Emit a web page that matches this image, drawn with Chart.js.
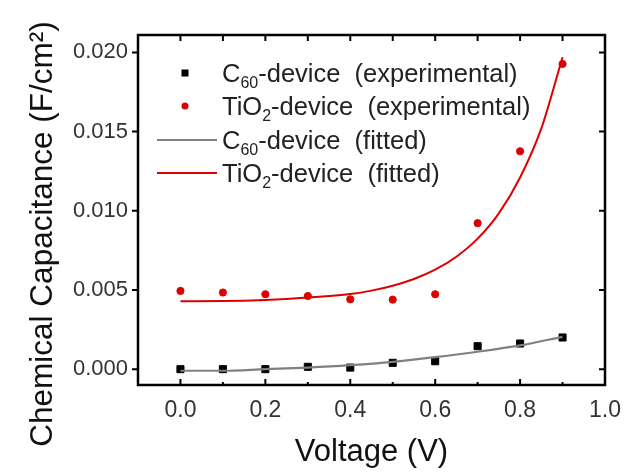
<!DOCTYPE html>
<html>
<head>
<meta charset="utf-8">
<script src="https://cdn.jsdelivr.net/npm/chart.js@4.4.0/dist/chart.umd.min.js"></script>
<style>
  html, body { margin: 0; padding: 0; background: #fff; }
  #wrap { width: 636px; height: 473px; }
</style>
</head>
<body>
<div id="wrap"><canvas id="chartCap" width="636" height="473"></canvas></div>
<script>
// measured points (voltage in V, capacitance in F/cm2)
const voltage = [0.0, 0.1, 0.2, 0.3, 0.4, 0.5, 0.6, 0.7, 0.8, 0.9];
const c60Exp = [0.0, 0.0, 0.0, 0.00015, 0.0001, 0.0004, 0.0005, 0.00145, 0.00162, 0.002];
const tio2Exp = [0.00494, 0.00484, 0.00473, 0.00462, 0.00441, 0.00439, 0.00473, 0.00922, 0.01376, 0.01927];

// fitted curves
const c60FitV = [0.0, 0.1, 0.2, 0.3, 0.4, 0.5, 0.6, 0.7, 0.8, 0.9];
const c60Fit = [-0.0001, -0.0001, 0.0, 0.0001, 0.00025, 0.00046, 0.00076, 0.0011, 0.0015, 0.00204];
const tio2FitV = [0.0, 0.1, 0.2, 0.3, 0.4, 0.45, 0.5, 0.55, 0.6, 0.65, 0.7, 0.75, 0.8, 0.85, 0.9];
const tio2Fit = [0.00429, 0.0043, 0.00437, 0.00452, 0.00474, 0.00496, 0.00527, 0.00569, 0.00628, 0.0071, 0.00824, 0.00984, 0.0121, 0.0152, 0.0197];

// series names, {..} = subscript
const seriesLabels = [
    'C{60}-device  (experimental)',
    'TiO{2}-device  (experimental)',
    'C{60}-device  (fitted)',
    'TiO{2}-device  (fitted)'
];

const xTicks = [0.0, 0.2, 0.4, 0.6, 0.8, 1.0];
const xMinorTicks = [0.1, 0.3, 0.5, 0.7, 0.9];
const yTicks = [0.000, 0.005, 0.010, 0.015, 0.020];
const yTitle = 'Chemical Capacitance (F/cm²)';

const RED = '#dd0000';
const GRAY = '#808080';
const FONT = "'Liberation Sans', Arial, sans-serif";

function pairs(xs, ys) {
    return xs.map((v, i) => ({ x: v, y: ys[i] }));
}

// box around the plot + ticks, and the y title (sits lower than chart.js would centre it)
const frameTicks = {
    id: 'frameTicks',
    afterDraw(chart) {
        const { ctx, chartArea: a, scales: { x, y } } = chart;
        ctx.save();
        ctx.strokeStyle = '#000';
        ctx.lineWidth = 2.5;
        ctx.strokeRect(a.left, a.top, a.right - a.left, a.bottom - a.top);
        ctx.lineWidth = 2;
        ctx.beginPath();
        xTicks.concat(xMinorTicks).forEach(v => {
            const px = x.getPixelForValue(v);
            const len = xTicks.includes(v) ? 6 : 3;
            ctx.moveTo(px, a.bottom);
            ctx.lineTo(px, a.bottom - len);
            ctx.moveTo(px, a.top);
            ctx.lineTo(px, a.top + 6);
        });
        yTicks.forEach(v => {
            const py = y.getPixelForValue(v);
            ctx.moveTo(a.left, py);
            ctx.lineTo(a.left - 6, py);
            ctx.moveTo(a.right, py);
            ctx.lineTo(a.right - 6, py);
        });
        ctx.stroke();

        ctx.translate(52, 234);
        ctx.rotate(-Math.PI / 2);
        ctx.fillStyle = '#111';
        ctx.font = '31.5px ' + FONT;
        ctx.textAlign = 'center';
        ctx.textBaseline = 'alphabetic';
        ctx.fillText(yTitle, 0, 0);
        ctx.restore();
    }
};

// legend with subscripts (the built-in one can't do them)
const subLegend = {
    id: 'subLegend',
    afterDraw(chart) {
        const { ctx, chartArea: a } = chart;
        const rows = [38, 71, 105, 138];
        chart.data.datasets.forEach((ds, i) => {
            const cy = a.top + rows[i];
            ctx.save();
            if (ds.showLine) {
                ctx.strokeStyle = ds.borderColor;
                ctx.lineWidth = 2;
                ctx.beginPath();
                ctx.moveTo(a.left + 19, cy);
                ctx.lineTo(a.left + 79, cy);
                ctx.stroke();
            } else {
                ctx.fillStyle = ds.pointBackgroundColor;
                const cx = a.left + 47;
                if (ds.pointStyle === 'rect') {
                    ctx.fillRect(cx - 3.5, cy - 3.5, 7, 7);
                } else {
                    ctx.beginPath();
                    ctx.arc(cx, cy, 3.5, 0, Math.PI * 2);
                    ctx.fill();
                }
            }
            ctx.fillStyle = '#222';
            ctx.textBaseline = 'alphabetic';
            let tx = a.left + 84;
            ds.label.split(/(\{[^}]*\})/).forEach(part => {
                if (!part) return;
                if (part[0] === '{') {
                    const s = part.slice(1, -1);
                    ctx.font = '16px ' + FONT;
                    ctx.fillText(s, tx, cy + 15);
                    tx += ctx.measureText(s).width;
                } else {
                    ctx.font = '25.5px ' + FONT;
                    ctx.fillText(part, tx, cy + 9);
                    tx += ctx.measureText(part).width;
                }
            });
            ctx.restore();
        });
    }
};

Chart.defaults.font.family = FONT;
Chart.defaults.color = '#333';

new Chart(document.getElementById('chartCap').getContext('2d'), {
    type: 'scatter',
    data: {
        datasets: [{
            label: seriesLabels[0],
            data: pairs(voltage, c60Exp),
            pointStyle: 'rect',
            pointRadius: 5,
            pointBackgroundColor: '#000',
            pointBorderColor: '#000',
            borderColor: '#000',
            showLine: false,
            order: 3
        }, {
            label: seriesLabels[1],
            data: pairs(voltage, tio2Exp),
            pointStyle: 'circle',
            pointRadius: 3.6,
            pointBackgroundColor: RED,
            pointBorderColor: RED,
            borderColor: RED,
            showLine: false,
            order: 4
        }, {
            label: seriesLabels[2],
            data: pairs(c60FitV, c60Fit),
            showLine: true,
            borderColor: GRAY,
            borderWidth: 2.2,
            pointRadius: 0,
            cubicInterpolationMode: 'monotone',
            order: 1
        }, {
            label: seriesLabels[3],
            data: pairs(tio2FitV, tio2Fit),
            showLine: true,
            borderColor: RED,
            borderWidth: 2,
            pointRadius: 0,
            cubicInterpolationMode: 'monotone',
            order: 2
        }]
    },
    options: {
        responsive: false,
        animation: false,
        layout: { padding: { top: 35, right: 31, left: 0, bottom: 0 } },
        plugins: {
            legend: { display: false },
            tooltip: { enabled: false }
        },
        scales: {
            x: {
                type: 'linear',
                min: -0.1,
                max: 1.0,
                grid: { display: false, drawTicks: false },
                border: { display: false },
                afterBuildTicks: scale => { scale.ticks = xTicks.map(v => ({ value: v })); },
                afterFit: scale => { scale.height = 88; },
                ticks: {
                    padding: 12,
                    color: '#333',
                    font: { size: 23 },
                    callback: v => v.toFixed(1)
                },
                title: {
                    display: true,
                    text: 'Voltage (V)',
                    color: '#111',
                    font: { size: 31 },
                    padding: { top: 0, bottom: 2 }
                }
            },
            y: {
                type: 'linear',
                min: -0.001,
                max: 0.0211,
                grid: { display: false, drawTicks: false },
                border: { display: false },
                afterBuildTicks: scale => { scale.ticks = yTicks.map(v => ({ value: v })); },
                afterFit: scale => { scale.width = 138; },
                ticks: {
                    padding: 10,
                    color: '#333',
                    font: { size: 22 },
                    callback: v => v.toFixed(3)
                },
                title: { display: false }
            }
        }
    },
    plugins: [frameTicks, subLegend]
});
</script>
</body>
</html>
